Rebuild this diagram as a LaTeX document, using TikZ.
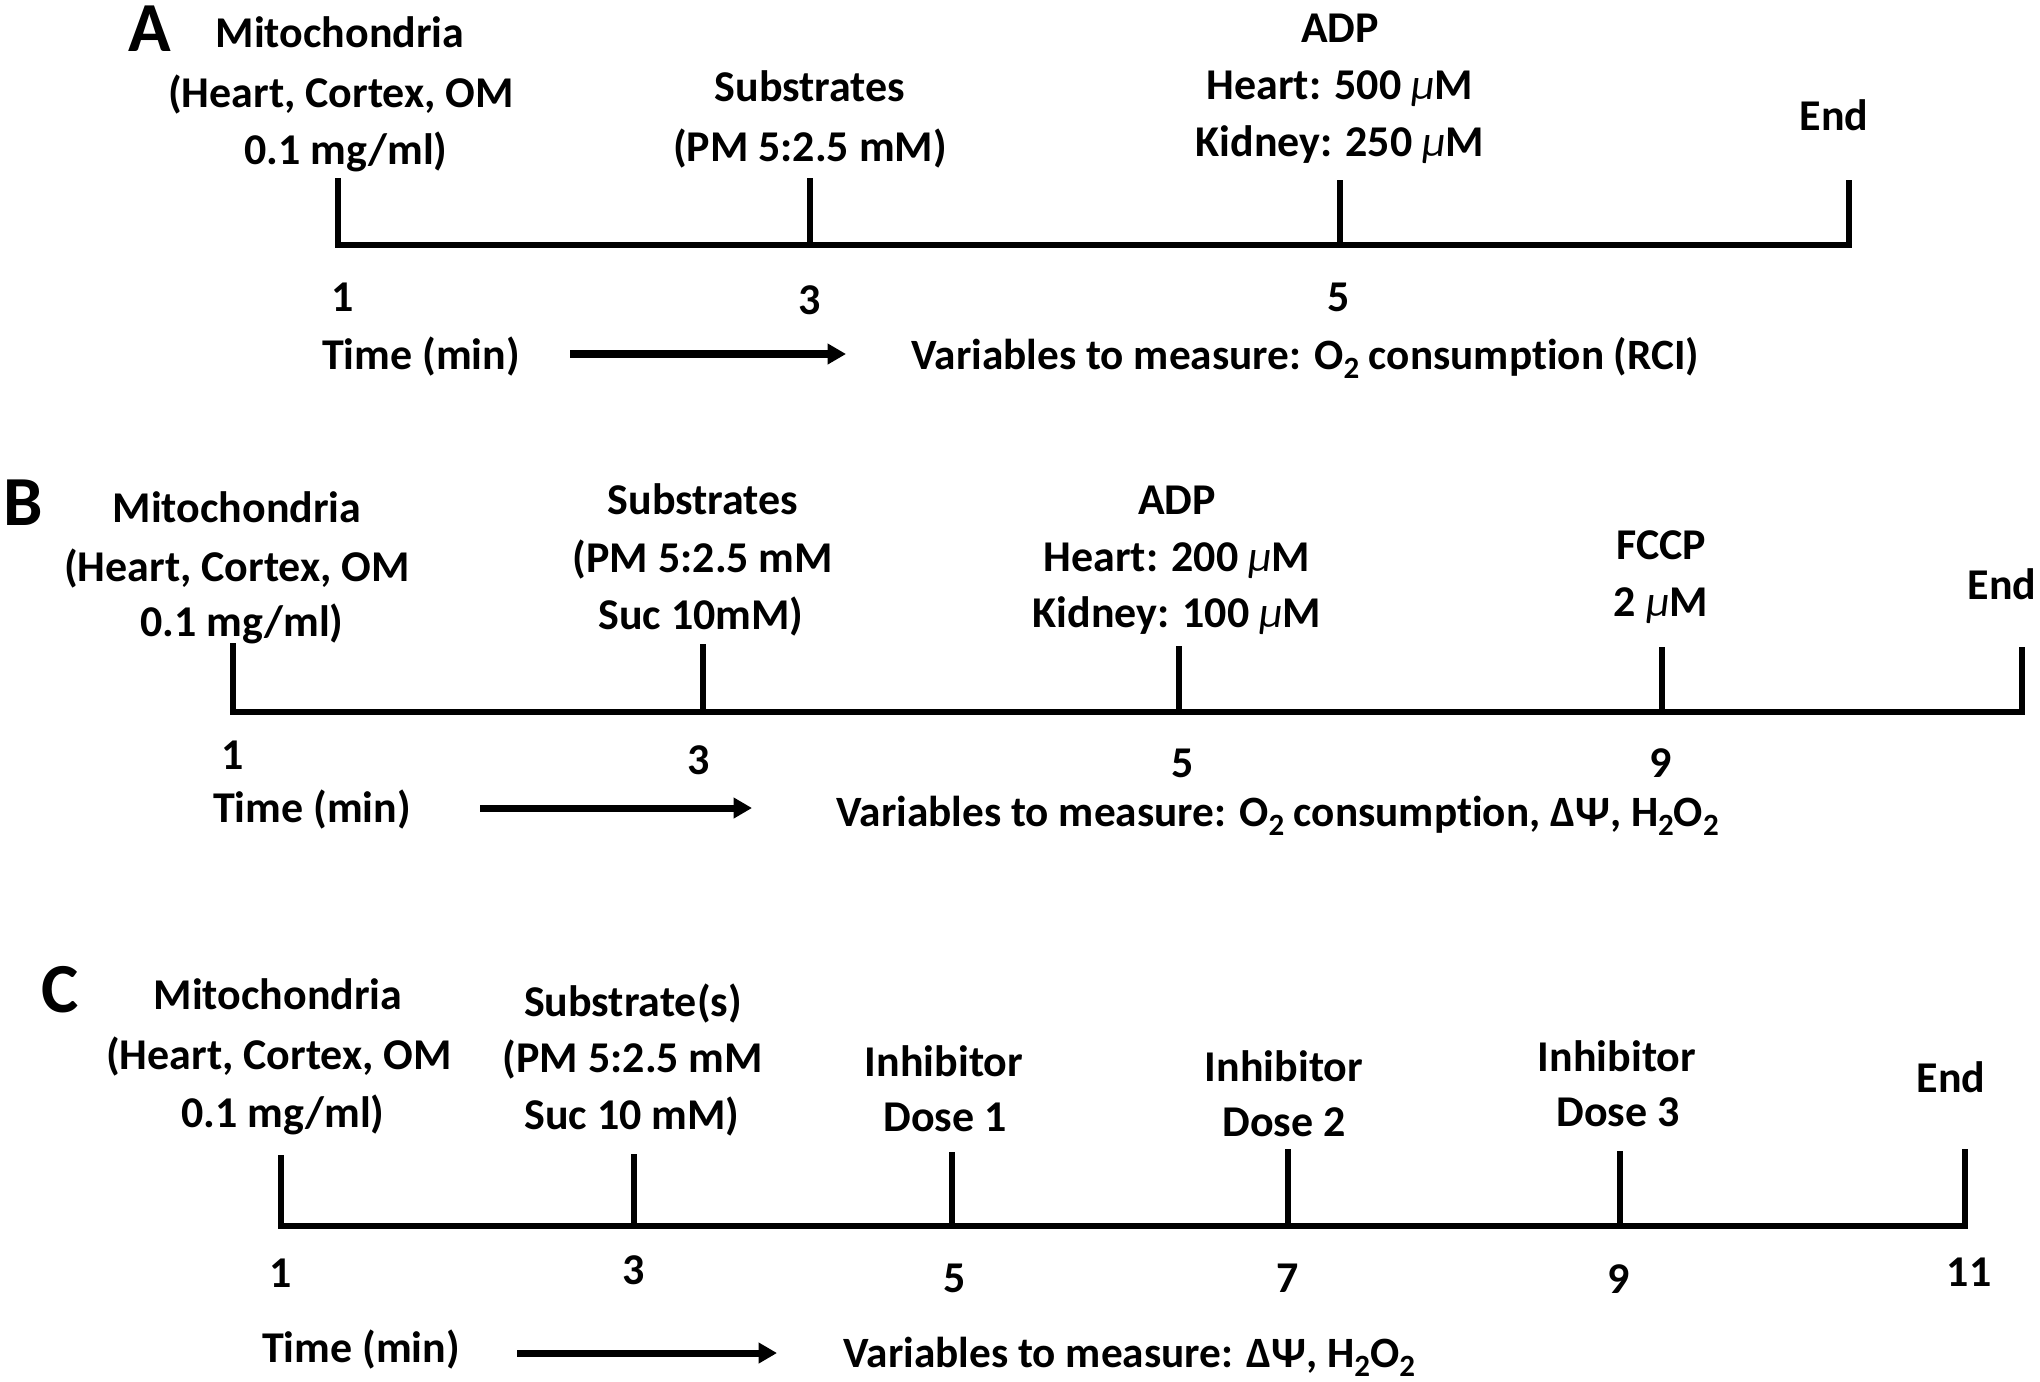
\documentclass[tikz,border=0pt]{standalone}
\usepackage{fontspec}
\setmainfont{Carlito}[Ligatures=NoCommon]
\usetikzlibrary{arrows.meta}
\newcommand{\lowsub}[1]{\raisebox{-0.45ex}{\fontsize{8.8pt}{8.8pt}\selectfont #1}}
\newcommand{\muu}{{\mdseries\itshape μ}}
\begin{document}
\begin{tikzpicture}[x=0.01cm,y=-0.01cm,
  lbl/.style={font=\fontsize{12.5pt}{14pt}\selectfont\bfseries, anchor=base, inner sep=0pt},
  lblw/.style={font=\fontsize{12.3pt}{14pt}\selectfont\bfseries, inner sep=0pt, anchor=base west},
  panel/.style={font=\fontsize{20pt}{24pt}\selectfont\bfseries, anchor=center, inner sep=0pt},
  axisline/.style={line width=1.9pt, line cap=rect},
  tickline/.style={line width=1.75pt},
  timearrow/.style={line width=2pt, -{Triangle[length=5.2pt,width=5.6pt]}}]
\useasboundingbox (0,0) rectangle (2040,1381);

% ================= Panel A =================
\node[panel] (A) at (150,29) {A};
\node[lbl] (Am1) at (340,47) {Mitochondria};
\node[lbl] (Am2) at (341,107) {(Heart, Cortex, OM};
\node[lbl] (Am3) at (346,164) {0.1 mg/ml)};
\node[lbl] (As1) at (810,101) {Substrates};
\node[lbl] (As2) at (810,161) {(PM 5:2.5 mM)};
\node[lbl] (Aa1) at (1340,42) {ADP};
\node[lbl] (Aa2) at (1340,99) {Heart: 500 \muu M};
\node[lbl] (Aa3) at (1340,156) {Kidney: 250 \muu M};
\node[lbl] (Ae) at (1834,130) {End};
\coordinate (At1) at (338,178); \coordinate (Ab1) at (338,245);
\coordinate (At3) at (810,178); \coordinate (Ab3) at (810,245);
\coordinate (At5) at (1340,180); \coordinate (Ab5) at (1340,245);
\coordinate (AtE) at (1849,180); \coordinate (AbE) at (1849,245);
\draw[axisline] (Ab1) -- (AbE);
\draw[tickline] (At1) -- (Ab1);
\draw[tickline] (At3) -- (Ab3);
\draw[tickline] (At5) -- (Ab5);
\draw[tickline] (AtE) -- (AbE);
\node[lbl] (An1) at (343,311) {1};
\node[lbl] (An3) at (810,314) {3};
\node[lbl] (An5) at (1339,311) {5};
\node[lbl] (Atime) at (421,369) {Time (min)};
\coordinate (Aas) at (570,354); \coordinate (Aae) at (846,354);
\draw[timearrow] (Aas) -- (Aae);
\node[lblw] (Avar) at (911,369) {Variables to measure: O\lowsub{2} consumption (RCI)};

% ================= Panel B =================
\node[panel] (B) at (23,503) {B};
\node[lbl] (Bm1) at (237,522) {Mitochondria};
\node[lbl] (Bm2) at (237,581) {(Heart, Cortex, OM};
\node[lbl] (Bm3) at (242,636) {0.1 mg/ml)};
\node[lbl] (Bs1) at (703,514) {Substrates};
\node[lbl] (Bs2) at (703,572) {(PM 5:2.5 mM};
\node[lbl] (Bs3) at (701,629) {Suc 10mM)};
\node[lbl] (Ba1) at (1177,514) {ADP};
\node[lbl] (Ba2) at (1177,571) {Heart: 200 \muu M};
\node[lbl] (Ba3) at (1177,627) {Kidney: 100 \muu M};
\node[lbl] (Bf1) at (1661,559) {FCCP};
\node[lbl] (Bf2) at (1661,616) {2 \muu M};
\node[lbl] (Be) at (2002,599) {End};
\coordinate (Bt1) at (233,643); \coordinate (Bb1) at (233,712);
\coordinate (Bt3) at (703,644); \coordinate (Bb3) at (703,712);
\coordinate (Bt5) at (1179,646); \coordinate (Bb5) at (1179,712);
\coordinate (Bt9) at (1662,647); \coordinate (Bb9) at (1662,712);
\coordinate (BtE) at (2022,647); \coordinate (BbE) at (2022,712);
\draw[axisline] (Bb1) -- (BbE);
\draw[tickline] (Bt1) -- (Bb1);
\draw[tickline] (Bt3) -- (Bb3);
\draw[tickline] (Bt5) -- (Bb5);
\draw[tickline] (Bt9) -- (Bb9);
\draw[tickline] (BtE) -- (BbE);
\node[lbl] (Bn1) at (233,769) {1};
\node[lbl] (Bn3) at (699,774) {3};
\node[lbl] (Bn5) at (1183,777) {5};
\node[lbl] (Bn9) at (1661,777) {9};
\node[lbl] (Btime) at (312,822) {Time (min)};
\coordinate (Bas) at (480,808); \coordinate (Bae) at (752,808);
\draw[timearrow] (Bas) -- (Bae);
\node[lblw] (Bvar) at (836,826) {Variables to measure: O\lowsub{2} consumption, ΔΨ, H\lowsub{2}O\lowsub{2}};

% ================= Panel C =================
\node[panel] (C) at (60,990) {C};
\node[lbl] (Cm1) at (278,1009) {Mitochondria};
\node[lbl] (Cm2) at (279,1069) {(Heart, Cortex, OM};
\node[lbl] (Cm3) at (283,1127) {0.1 mg/ml)};
\node[lbl] (Cs1) at (633,1016) {Substrate(s)};
\node[lbl] (Cs2) at (633,1072) {(PM 5:2.5 mM};
\node[lbl] (Cs3) at (632,1129) {Suc 10 mM)};
\node[lbl] (Ci1a) at (944,1076) {Inhibitor};
\node[lbl] (Ci1b) at (945,1131) {Dose 1};
\node[lbl] (Ci2a) at (1284,1081) {Inhibitor};
\node[lbl] (Ci2b) at (1284,1136) {Dose 2};
\node[lbl] (Ci3a) at (1617,1071) {Inhibitor};
\node[lbl] (Ci3b) at (1618,1126) {Dose 3};
\node[lbl] (Ce) at (1951,1092) {End};
\coordinate (Ct1) at (281,1155); \coordinate (Cb1) at (281,1226);
\coordinate (Ct3) at (634,1154); \coordinate (Cb3) at (634,1226);
\coordinate (Ct5) at (952,1152); \coordinate (Cb5) at (952,1226);
\coordinate (Ct7) at (1288,1149); \coordinate (Cb7) at (1288,1226);
\coordinate (Ct9) at (1620,1151); \coordinate (Cb9) at (1620,1226);
\coordinate (CtE) at (1965,1149); \coordinate (CbE) at (1965,1226);
\draw[axisline] (Cb1) -- (CbE);
\draw[tickline] (Ct1) -- (Cb1);
\draw[tickline] (Ct3) -- (Cb3);
\draw[tickline] (Ct5) -- (Cb5);
\draw[tickline] (Ct7) -- (Cb7);
\draw[tickline] (Ct9) -- (Cb9);
\draw[tickline] (CtE) -- (CbE);
\node[lbl] (Cn1) at (281,1287) {1};
\node[lbl] (Cn3) at (634,1284) {3};
\node[lbl] (Cn5) at (955,1292) {5};
\node[lbl] (Cn7) at (1288,1292) {7};
\node[lbl] (Cn9) at (1619,1293) {9};
\node[lbl] (Cn11) at (1969,1286) {11};
\node[lbl] (Ctime) at (361,1362) {Time (min)};
\coordinate (Cas) at (517,1353); \coordinate (Cae) at (777,1353);
\draw[timearrow] (Cas) -- (Cae);
\node[lblw] (Cvar) at (843,1367) {Variables to measure: ΔΨ, H\lowsub{2}O\lowsub{2}};
\end{tikzpicture}
\end{document}
